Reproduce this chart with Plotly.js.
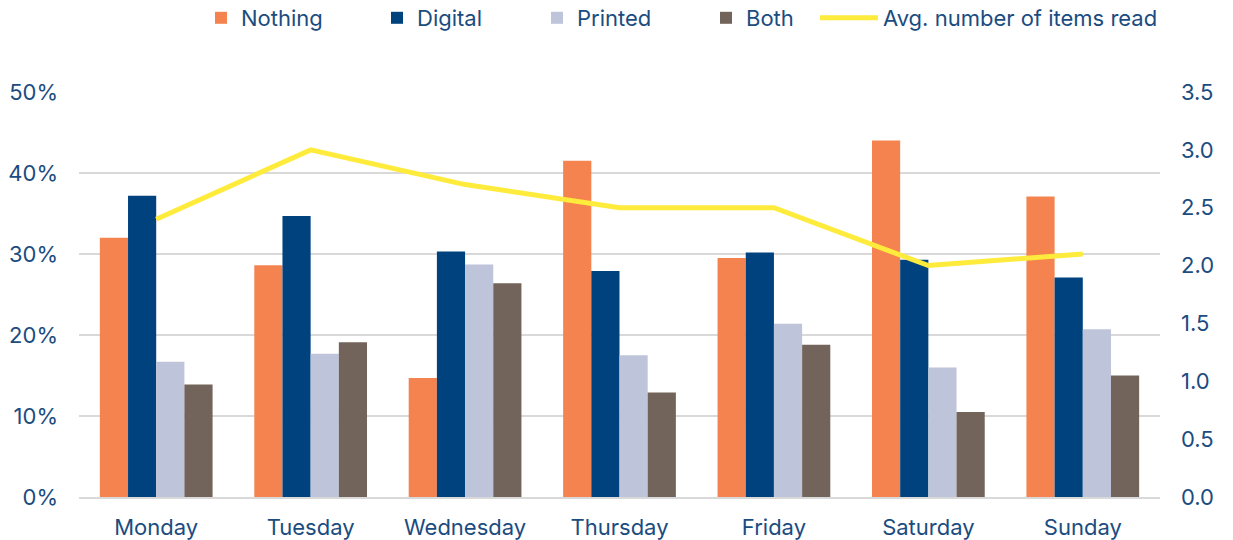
<!DOCTYPE html>
<html>
<head>
<meta charset="utf-8">
<script src="https://cdn.plot.ly/plotly-3.0.1.min.js"></script>
<style>html,body{margin:0;padding:0;background:#fff}#chart{width:1233px;height:540px}</style>
</head>
<body>
<div id="chart"></div>
<script>
const days = ["Monday","Tuesday","Wednesday","Thursday","Friday","Saturday","Sunday"];
const nothing = [32.0, 28.6, 14.7, 41.5, 29.5, 44.0, 37.1];
const digital = [37.2, 34.7, 30.3, 27.9, 30.2, 29.3, 27.1];
const printed = [16.7, 17.7, 28.7, 17.5, 21.4, 16.0, 20.7];
const both    = [13.9, 19.1, 26.4, 12.9, 18.8, 10.5, 15.0];
const avgItems = [2.4, 3.0, 2.7, 2.5, 2.5, 2.0, 2.1];

const textColor = "#1B4C80";
const font = {family: "Inter, 'DejaVu Sans', sans-serif", size: 22, color: textColor};

const traces = [
  {type:"bar", name:"Nothing", x:days, y:nothing, marker:{color:"#F4834F"}, legend:"legend"},
  {type:"bar", name:"Digital", x:days, y:digital, marker:{color:"#00427E"}, legend:"legend2"},
  {type:"bar", name:"Printed", x:days, y:printed, marker:{color:"#BEC4DA"}, legend:"legend3"},
  {type:"bar", name:"Both", x:days, y:both, marker:{color:"#73645B"}, legend:"legend4"},
  {type:"scatter", mode:"lines", name:"Avg. number of items read", x:days, y:avgItems, yaxis:"y2",
   line:{color:"#FFEB3B", width:5}, legend:"legend5"}
];

function lx(px){ return px / 1233; }
const legBase = {orientation:"h", xref:"container", yref:"container", yanchor:"middle", y:1 - 18/540,
                 xanchor:"left", font:font, bgcolor:"rgba(0,0,0,0)", borderwidth:0};

const layout = {
  width:1233, height:540,
  margin:{l:79, r:73, t:92, b:42.5},
  paper_bgcolor:"#fff", plot_bgcolor:"#fff",
  font:font,
  barmode:"group", bargap:0.27, bargroupgap:0,
  showlegend:true,
  legend: Object.assign({}, legBase, {x: lx(201)}),
  legend2: Object.assign({}, legBase, {x: lx(377)}),
  legend3: Object.assign({}, legBase, {x: lx(537)}),
  legend4: Object.assign({}, legBase, {x: lx(706)}),
  legend5: Object.assign({}, legBase, {x: lx(815), itemwidth: 58}),
  xaxis:{type:"category", showgrid:false, showline:true, linecolor:"#D9D9D9", linewidth:2,
         ticks:"", ticklabelstandoff:10, tickfont:font, range:[-0.5, 6.5]},
  yaxis:{range:[0,50], dtick:10, ticksuffix:"%", showgrid:true, gridcolor:"#D9D9D9", gridwidth:2,
         zeroline:false, showline:false, ticks:"", ticklabelstandoff:20, tickfont:font},
  yaxis2:{range:[0,3.5], dtick:0.5, tickformat:".1f", overlaying:"y", side:"right", showgrid:false,
          zeroline:false, showline:false, ticks:"", ticklabelstandoff:20, tickfont:font}
};

Plotly.newPlot("chart", traces, layout, {displayModeBar:false, staticPlot:true});
</script>
</body>
</html>
